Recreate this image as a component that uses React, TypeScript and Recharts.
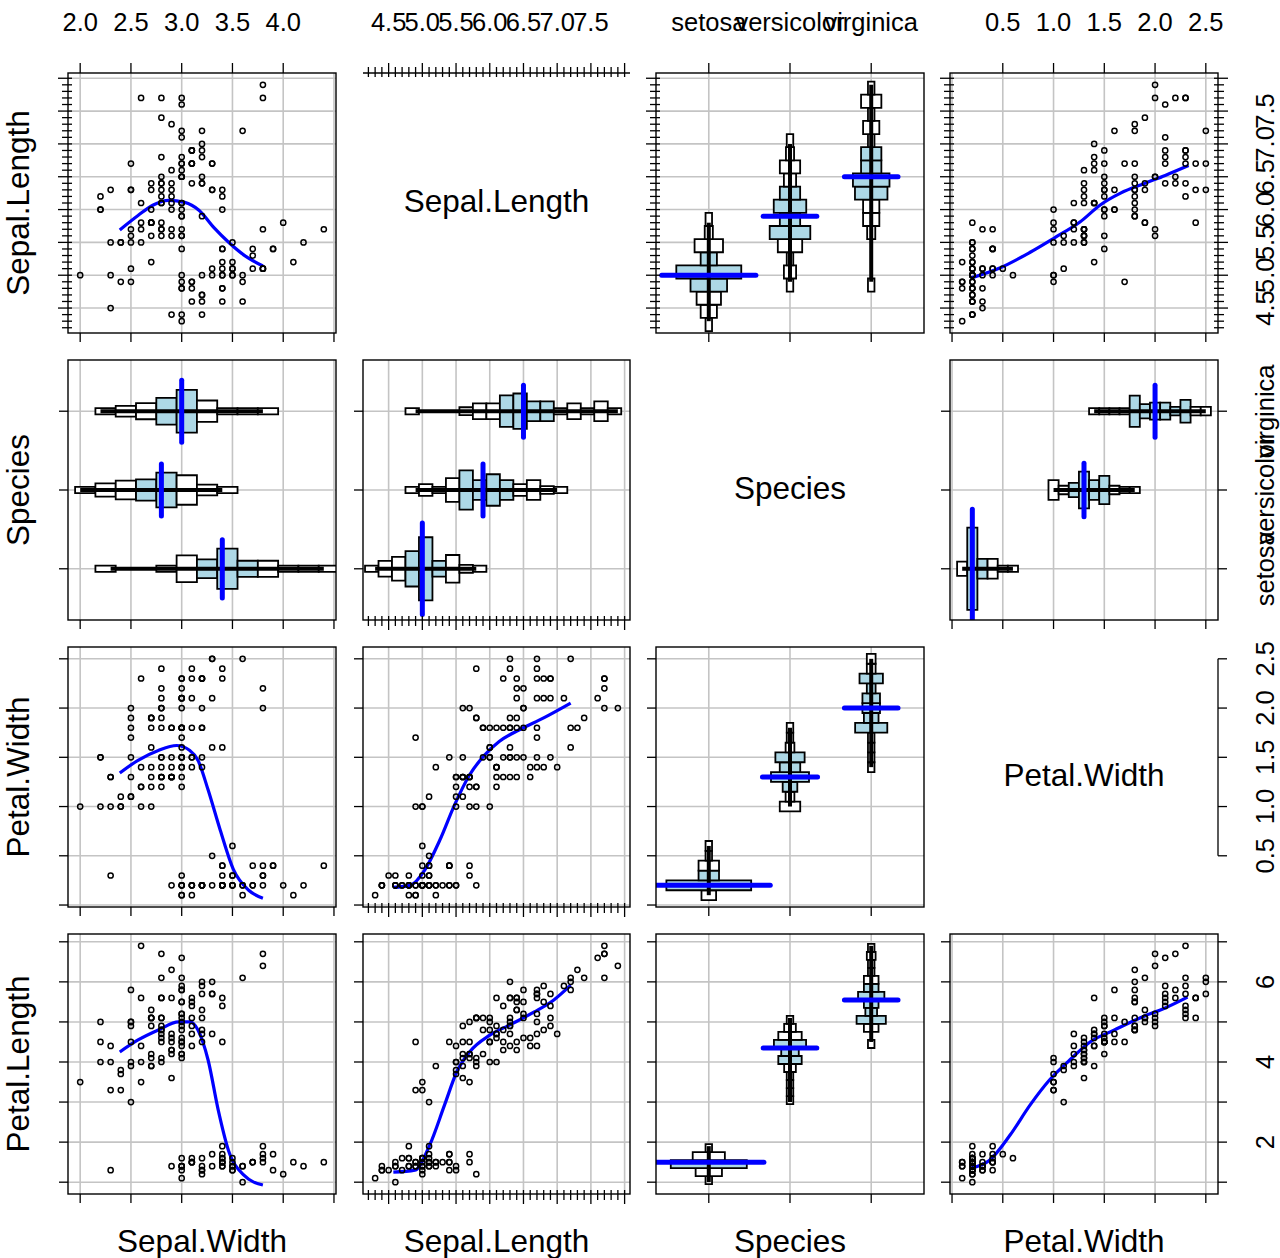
import React from 'react';
import { ComposedChart, XAxis, YAxis, Scatter, Line, CartesianGrid, ReferenceArea, ReferenceLine } from 'recharts';

// ---------------- iris data ----------------
const SETOSA_SL = [5.1,4.9,4.7,4.6,5.0,5.4,4.6,5.0,4.4,4.9,5.4,4.8,4.8,4.3,5.8,5.7,5.4,5.1,5.7,5.1,5.4,5.1,4.6,5.1,4.8,5.0,5.0,5.2,5.2,4.7,4.8,5.4,5.2,5.5,4.9,5.0,5.5,4.9,4.4,5.1,5.0,4.5,4.4,5.0,5.1,4.8,5.1,4.6,5.3,5.0];
const SETOSA_SW = [3.5,3.0,3.2,3.1,3.6,3.9,3.4,3.4,2.9,3.1,3.7,3.4,3.0,3.0,4.0,4.4,3.9,3.5,3.8,3.8,3.4,3.7,3.6,3.3,3.4,3.0,3.4,3.5,3.4,3.2,3.1,3.4,4.1,4.2,3.1,3.2,3.5,3.6,3.0,3.4,3.5,2.3,3.2,3.5,3.8,3.0,3.8,3.2,3.7,3.3];
const SETOSA_PL = [1.4,1.4,1.3,1.5,1.4,1.7,1.4,1.5,1.4,1.5,1.5,1.6,1.4,1.1,1.2,1.5,1.3,1.4,1.7,1.5,1.7,1.5,1.0,1.7,1.9,1.6,1.6,1.5,1.4,1.6,1.6,1.5,1.5,1.4,1.5,1.2,1.3,1.4,1.3,1.5,1.3,1.3,1.3,1.6,1.9,1.4,1.6,1.4,1.5,1.4];
const SETOSA_PW = [0.2,0.2,0.2,0.2,0.2,0.4,0.3,0.2,0.2,0.1,0.2,0.2,0.1,0.1,0.2,0.4,0.4,0.3,0.3,0.3,0.2,0.4,0.2,0.5,0.2,0.2,0.4,0.2,0.2,0.2,0.2,0.4,0.1,0.2,0.2,0.2,0.2,0.1,0.2,0.2,0.3,0.3,0.2,0.6,0.4,0.3,0.2,0.2,0.2,0.2];

const VERSICOLOR_SL = [7.0,6.4,6.9,5.5,6.5,5.7,6.3,4.9,6.6,5.2,5.0,5.9,6.0,6.1,5.6,6.7,5.6,5.8,6.2,5.6,5.9,6.1,6.3,6.1,6.4,6.6,6.8,6.7,6.0,5.7,5.5,5.5,5.8,6.0,5.4,6.0,6.7,6.3,5.6,5.5,5.5,6.1,5.8,5.0,5.6,5.7,5.7,6.2,5.1,5.7];
const VERSICOLOR_SW = [3.2,3.2,3.1,2.3,2.8,2.8,3.3,2.4,2.9,2.7,2.0,3.0,2.2,2.9,2.9,3.1,3.0,2.7,2.2,2.5,3.2,2.8,2.5,2.8,2.9,3.0,2.8,3.0,2.9,2.6,2.4,2.4,2.7,2.7,3.0,3.4,3.1,2.3,3.0,2.5,2.6,3.0,2.6,2.3,2.7,3.0,2.9,2.9,2.5,2.8];
const VERSICOLOR_PL = [4.7,4.5,4.9,4.0,4.6,4.5,4.7,3.3,4.6,3.9,3.5,4.2,4.0,4.7,3.6,4.4,4.5,4.1,4.5,3.9,4.8,4.0,4.9,4.7,4.3,4.4,4.8,5.0,4.5,3.5,3.8,3.7,3.9,5.1,4.5,4.5,4.7,4.4,4.1,4.0,4.4,4.6,4.0,3.3,4.2,4.2,4.2,4.3,3.0,4.1];
const VERSICOLOR_PW = [1.4,1.5,1.5,1.3,1.5,1.3,1.6,1.0,1.3,1.4,1.0,1.5,1.0,1.4,1.3,1.4,1.5,1.0,1.5,1.1,1.8,1.3,1.5,1.2,1.3,1.4,1.4,1.7,1.5,1.0,1.1,1.0,1.2,1.6,1.5,1.6,1.5,1.3,1.3,1.3,1.2,1.4,1.2,1.0,1.3,1.2,1.3,1.3,1.1,1.3];

const VIRGINICA_SL = [6.3,5.8,7.1,6.3,6.5,7.6,4.9,7.3,6.7,7.2,6.5,6.4,6.8,5.7,5.8,6.4,6.5,7.7,7.7,6.0,6.9,5.6,7.7,6.3,6.7,7.2,6.2,6.1,6.4,7.2,7.4,7.9,6.4,6.3,6.1,7.7,6.3,6.4,6.0,6.9,6.7,6.9,5.8,6.8,6.7,6.7,6.3,6.5,6.2,5.9];
const VIRGINICA_SW = [3.3,2.7,3.0,2.9,3.0,3.0,2.5,2.9,2.5,3.6,3.2,2.7,3.0,2.5,2.8,3.2,3.0,3.8,2.6,2.2,3.2,2.8,2.8,2.7,3.3,3.2,2.8,3.0,2.8,3.0,2.8,3.8,2.8,2.8,2.6,3.0,3.4,3.1,3.0,3.1,3.1,3.1,2.7,3.2,3.3,3.0,2.5,3.0,3.4,3.0];
const VIRGINICA_PL = [6.0,5.1,5.9,5.6,5.8,6.6,4.5,6.3,5.8,6.1,5.1,5.3,5.5,5.0,5.1,5.3,5.5,6.7,6.9,5.0,5.7,4.9,6.7,4.9,5.7,6.0,4.8,4.9,5.6,5.8,6.1,6.4,5.6,5.1,5.6,6.1,5.6,5.5,4.8,5.4,5.6,5.1,5.1,5.9,5.7,5.2,5.0,5.2,5.4,5.1];
const VIRGINICA_PW = [2.5,1.9,2.1,1.8,2.2,2.1,1.7,1.8,1.8,2.5,2.0,1.9,2.1,2.0,2.4,2.3,1.8,2.2,2.3,1.5,2.3,2.0,2.0,1.8,2.1,1.8,1.8,1.8,2.1,1.6,1.9,2.0,2.2,1.5,1.4,2.3,2.4,1.8,1.8,2.1,2.4,2.3,1.9,2.3,2.5,2.3,1.9,2.0,2.3,1.8];

const SPECIES_NAMES = ['setosa', 'versicolor', 'virginica'];
const SPECIES_CODES = [1, 2, 3];

// ---------------- smoother curves ----------------
type Pt = { x: number; y: number };
const LOESS_SW_SL: Pt[] = [{x:2.39,y:5.69},{x:2.57,y:5.91},{x:2.72,y:6.07},{x:2.87,y:6.14},{x:3.03,y:6.11},{x:3.17,y:5.99},{x:3.32,y:5.72},{x:3.47,y:5.49},{x:3.61,y:5.31},{x:3.80,y:5.14}];
const LOESS_PW_SL: Pt[] = [{x:0.19,y:4.96},{x:0.47,y:5.11},{x:0.77,y:5.35},{x:1.01,y:5.57},{x:1.26,y:5.81},{x:1.46,y:6.07},{x:1.66,y:6.25},{x:1.90,y:6.40},{x:2.10,y:6.52},{x:2.33,y:6.67}];
const LOESS_SW_PW: Pt[] = [{x:2.39,y:1.34},{x:2.57,y:1.47},{x:2.77,y:1.57},{x:2.95,y:1.62},{x:3.08,y:1.57},{x:3.16,y:1.47},{x:3.26,y:1.17},{x:3.38,y:0.76},{x:3.51,y:0.36},{x:3.66,y:0.15},{x:3.80,y:0.07}];
const LOESS_SL_PW: Pt[] = [{x:4.57,y:0.18},{x:4.82,y:0.20},{x:5.04,y:0.36},{x:5.26,y:0.66},{x:5.48,y:1.02},{x:5.70,y:1.32},{x:5.92,y:1.52},{x:6.14,y:1.66},{x:6.44,y:1.78},{x:6.80,y:1.90},{x:7.20,y:2.05}];
const LOESS_SW_PL: Pt[] = [{x:2.39,y:4.25},{x:2.57,y:4.55},{x:2.77,y:4.80},{x:2.97,y:5.00},{x:3.08,y:5.00},{x:3.16,y:4.80},{x:3.26,y:4.05},{x:3.36,y:2.80},{x:3.46,y:1.80},{x:3.61,y:1.18},{x:3.80,y:0.93}];
const LOESS_SL_PL: Pt[] = [{x:4.57,y:1.25},{x:4.89,y:1.30},{x:5.11,y:1.93},{x:5.33,y:2.93},{x:5.51,y:3.75},{x:5.70,y:4.25},{x:6.00,y:4.67},{x:6.29,y:4.92},{x:6.66,y:5.25},{x:6.95,y:5.55},{x:7.20,y:5.92}];
const LOESS_PW_PL: Pt[] = [{x:0.19,y:1.35},{x:0.37,y:1.55},{x:0.57,y:2.17},{x:0.77,y:2.93},{x:0.96,y:3.55},{x:1.16,y:4.05},{x:1.36,y:4.50},{x:1.60,y:4.80},{x:1.85,y:5.10},{x:2.10,y:5.35},{x:2.32,y:5.62}];

// ---------------- ticks ----------------
const SW_TICKS = [2.0, 2.5, 3.0, 3.5, 4.0, 4.5];
const SW_LABELS = [2.0, 2.5, 3.0, 3.5, 4.0];
const SL_TICKS = [4.2,4.3,4.4,4.5,4.6,4.7,4.8,4.9,5.0,5.1,5.2,5.3,5.4,5.5,5.6,5.7,5.8,5.9,6.0,6.1,6.2,6.3,6.4,6.5,6.6,6.7,6.8,6.9,7.0,7.1,7.2,7.3,7.4,7.5,7.6,7.7,7.8,7.9,8.0];
const SL_LABELS = [4.5, 5.0, 5.5, 6.0, 6.5, 7.0, 7.5];
const SL_GRID = [4.5, 5.0, 5.5, 6.0, 6.5, 7.0, 7.5, 8.0];
const PW_TICKS = [0.0, 0.5, 1.0, 1.5, 2.0, 2.5];
const PW_LABELS = [0.5, 1.0, 1.5, 2.0, 2.5];
const PL_TICKS = [1, 2, 3, 4, 5, 6, 7];
const PL_LABELS = [2, 4, 6];
const SP_TICKS = [1, 2, 3];

// ---------------- layout ----------------
const PAD = 70;
const COL_X = [68, 363, 656, 950];
const COL_W = [268, 267, 268, 268];
const ROW_Y = [73, 360, 647, 934];
const ROW_H = 260;
const FONT = '"Liberation Sans", Arial, Helvetica, sans-serif';
const TICK_FS = 25.5;
const NAME_FS = 31.5;
const GRID_COLOR = '#c4c4c4';

type VarKey = 'SW' | 'SL' | 'SP' | 'PW' | 'PL';
const ROW_VARS: VarKey[] = ['SL', 'SP', 'PW', 'PL'];
const COL_VARS: VarKey[] = ['SW', 'SL', 'SP', 'PW'];
const VAR_NAME: Record<VarKey, string> = { SW: 'Sepal.Width', SL: 'Sepal.Length', SP: 'Species', PW: 'Petal.Width', PL: 'Petal.Length' };

function domainOf(v: VarKey): [number, number] {
  switch (v) {
    case 'SW': return [1.88, 4.52];
    case 'SL': return [4.12, 8.08];
    case 'SP': return [0.35, 3.65];
    case 'PW': return [-0.02, 2.62];
    default: return [0.705, 7.195];
  }
}
function gridOf(v: VarKey): number[] {
  switch (v) {
    case 'SW': return SW_TICKS;
    case 'SL': return SL_GRID;
    case 'SP': return SP_TICKS;
    case 'PW': return PW_TICKS;
    default: return PL_TICKS;
  }
}
function ticksOf(v: VarKey): number[] {
  switch (v) {
    case 'SW': return SW_TICKS;
    case 'SL': return SL_TICKS;
    case 'SP': return SP_TICKS;
    case 'PW': return PW_TICKS;
    default: return PL_TICKS;
  }
}
function topTicksOf(v: VarKey): number[] {
  switch (v) {
    case 'SW': return SW_LABELS;
    case 'SL': return SL_TICKS;
    case 'SP': return SP_TICKS;
    case 'PW': return PW_LABELS;
    default: return PL_TICKS;
  }
}
function labelsOf(v: VarKey): number[] {
  switch (v) {
    case 'SW': return SW_LABELS;
    case 'SL': return SL_LABELS;
    case 'SP': return SP_TICKS;
    case 'PW': return PW_LABELS;
    default: return PL_LABELS;
  }
}
function binWidthOf(v: VarKey): number {
  return v === 'PW' ? 0.1 : 0.2;
}
// half-width (species units) per observation in a bin
function boxScaleOf(v: VarKey): number {
  switch (v) {
    case 'SL': return 0.025;
    case 'SW': return 0.017;
    case 'PL': return 0.018;
    default: return 0.018;
  }
}
function fmt(v: VarKey, val: number): string {
  if (v === 'SP') return SPECIES_NAMES[Math.round(val) - 1];
  if (v === 'PL') return String(Math.round(val));
  return val.toFixed(1);
}
function speciesValues(v: VarKey, si: number): number[] {
  if (v === 'SP') return new Array(50).fill(SPECIES_CODES[si]);
  const table: Record<string, number[][]> = {
    SL: [SETOSA_SL, VERSICOLOR_SL, VIRGINICA_SL],
    SW: [SETOSA_SW, VERSICOLOR_SW, VIRGINICA_SW],
    PL: [SETOSA_PL, VERSICOLOR_PL, VIRGINICA_PL],
    PW: [SETOSA_PW, VERSICOLOR_PW, VIRGINICA_PW],
  };
  return table[v][si];
}
function curveFor(xv: VarKey, yv: VarKey): Pt[] | null {
  const k = xv + '|' + yv;
  const m: Record<string, Pt[]> = {
    'SW|SL': LOESS_SW_SL, 'PW|SL': LOESS_PW_SL, 'SW|PW': LOESS_SW_PW, 'SL|PW': LOESS_SL_PW,
    'SW|PL': LOESS_SW_PL, 'SL|PL': LOESS_SL_PL, 'PW|PL': LOESS_PW_PL,
  };
  return m[k] || null;
}

const has = (arr: number[], v: number) => arr.some((a) => Math.abs(a - v) < 1e-6);
const isMajor = (v: number) => Math.abs(v * 2 - Math.round(v * 2)) < 1e-6;

// ---------------- statistics for the histogram boxes ----------------
function stats(vals: number[], bw: number) {
  const s = [...vals].sort((a, b) => a - b);
  const n = s.length;
  const q = (p: number) => {
    const h = (n - 1) * p;
    const lo = Math.floor(h);
    const hi = Math.min(lo + 1, n - 1);
    return s[lo] + (h - lo) * (s[hi] - s[lo]);
  };
  const counts = new Map<number, number>();
  s.forEach((v) => {
    const k = Math.floor(v / bw + 1e-6);
    counts.set(k, (counts.get(k) || 0) + 1);
  });
  const bins = [...counts.entries()].map(([k, c]) => ({ k, lo: k * bw - 0.05, hi: (k + 1) * bw - 0.05, c }));
  const med = q(0.5);
  const medBin = Math.floor(med / bw + 1e-6);
  const medCount = counts.get(medBin) || 1;
  return { min: s[0], max: s[n - 1], q1: q(0.25), q3: q(0.75), med, bins, medCount };
}

function boxElements(valVar: VarKey, vertical: boolean) {
  const els: React.ReactNode[] = [];
  const bw = binWidthOf(valVar);
  const k = boxScaleOf(valVar);
  SPECIES_CODES.forEach((s, si) => {
    const st = stats(speciesValues(valVar, si), bw);
    st.bins.forEach(({ lo, hi, c }, bi) => {
      const h = Math.max(0.04, k * c);
      const mid = (lo + hi) / 2;
      const inIqr = mid >= st.q1 - 0.05 && mid <= st.q3 + 0.05;
      const a = vertical
        ? { x1: s - h, x2: s + h, y1: lo, y2: hi }
        : { x1: lo, x2: hi, y1: s - h, y2: s + h };
      els.push(
        <ReferenceArea key={`a${si}-${bi}`} {...a} fill={inIqr ? '#add8e6' : '#ffffff'} fillOpacity={1}
          stroke="#000" strokeWidth={1.8} ifOverflow="hidden" />
      );
    });
    const rangeSeg = vertical
      ? [{ x: s, y: st.min }, { x: s, y: st.max }]
      : [{ x: st.min, y: s }, { x: st.max, y: s }];
    els.push(<ReferenceLine key={`r${si}`} segment={rangeSeg} stroke="#000" strokeWidth={4} ifOverflow="visible" />);
    const L = Math.max(0.33, 1.45 * k * st.medCount);
    const medSeg = vertical
      ? [{ x: s - L, y: st.med }, { x: s + L, y: st.med }]
      : [{ x: st.med, y: s - L }, { x: st.med, y: s + L }];
    els.push(<ReferenceLine key={`m${si}`} segment={medSeg} stroke="#0000ff" strokeWidth={5} strokeLinecap="round" ifOverflow="hidden" />);
  });
  return els;
}

// ---------------- panel config ----------------
type Side = 'top' | 'bottom' | 'left' | 'right';
type Edge = { side: Side; style: 'out' | 'dense' | 'bracket'; values: number[]; labels?: number[] };
type Kind = 'scatter' | 'boxV' | 'boxH' | 'diag';
interface PanelCfg { row: number; col: number; xv: VarKey; yv: VarKey; kind: Kind; xEdges: Edge[]; yEdges: Edge[] }

const styleOf = (v: VarKey) => (v === 'SL' ? 'dense' : 'out') as 'dense' | 'out';

function buildPanels(): PanelCfg[] {
  const out: PanelCfg[] = [];
  ROW_VARS.forEach((yv, r) => {
    COL_VARS.forEach((xv, c) => {
      const kind: Kind = xv === yv ? 'diag' : xv === 'SP' ? 'boxV' : yv === 'SP' ? 'boxH' : 'scatter';
      const xEdges: Edge[] = [];
      const yEdges: Edge[] = [];
      if (kind !== 'diag') {
        xEdges.push({ side: 'bottom', style: styleOf(xv), values: ticksOf(xv) });
        yEdges.push({ side: 'left', style: styleOf(yv), values: ticksOf(yv) });
        if (r === 0) xEdges.push({ side: 'top', style: styleOf(xv), values: topTicksOf(xv), labels: labelsOf(xv) });
        if (c === 3) yEdges.push({ side: 'right', style: styleOf(yv), values: ticksOf(yv), labels: labelsOf(yv) });
      } else if (xv === 'SL') {
        xEdges.push({ side: 'top', style: 'dense', values: SL_TICKS, labels: SL_LABELS });
      } else if (xv === 'PW') {
        yEdges.push({ side: 'right', style: 'bracket', values: PW_LABELS, labels: PW_LABELS });
      }
      out.push({ row: r, col: c, xv, yv, kind, xEdges, yEdges });
    });
  });
  return out;
}
const PANELS = buildPanels();

// ---------------- tick renderers ----------------
const TS = { stroke: '#000', strokeWidth: 1.3 };

function makeXTick(edges: Edge[], ph: number, v: VarKey) {
  return (props: any) => {
    const x = props.x;
    const val = props.payload.value;
    const parts: React.ReactNode[] = [];
    edges.forEach((e, i) => {
      if (!has(e.values, val)) return;
      const major = e.style !== 'dense' || isMajor(val);
      if (e.side === 'top') {
        const y0 = PAD;
        if (e.style === 'dense') parts.push(<line key={`t${i}`} x1={x} x2={x} y1={y0 + 4} y2={y0 - (major ? 10 : 6)} {...TS} />);
        else parts.push(<line key={`t${i}`} x1={x} x2={x} y1={y0} y2={y0 - 10} {...TS} />);
        if (e.labels && has(e.labels, val)) {
          parts.push(
            <text key={`l${i}`} x={x} y={PAD - 51} dy="0.35em" textAnchor="middle" fontSize={TICK_FS} fill="#000" style={{ fontFamily: FONT }}>
              {fmt(v, val)}
            </text>
          );
        }
      } else {
        const y0 = PAD + ph;
        if (e.style === 'dense') parts.push(<line key={`b${i}`} x1={x} x2={x} y1={y0 - 4} y2={y0 + (major ? 10 : 6)} {...TS} />);
        else parts.push(<line key={`b${i}`} x1={x} x2={x} y1={y0} y2={y0 + 9} {...TS} />);
      }
    });
    return <g>{parts}</g>;
  };
}

function makeYTick(edges: Edge[], pw: number, v: VarKey) {
  return (props: any) => {
    const y = props.y;
    const val = props.payload.value;
    const parts: React.ReactNode[] = [];
    edges.forEach((e, i) => {
      if (!has(e.values, val)) return;
      const major = e.style !== 'dense' || isMajor(val);
      if (e.side === 'left') {
        const x0 = PAD;
        if (e.style === 'dense') parts.push(<line key={`L${i}`} x1={x0 + 4} x2={x0 - (major ? 10 : 6)} y1={y} y2={y} {...TS} />);
        else parts.push(<line key={`L${i}`} x1={x0} x2={x0 - 9} y1={y} y2={y} {...TS} />);
      } else {
        const x0 = PAD + pw;
        if (e.style === 'dense') parts.push(<line key={`R${i}`} x1={x0 - 4} x2={x0 + (major ? 10 : 6)} y1={y} y2={y} {...TS} />);
        else parts.push(<line key={`R${i}`} x1={x0} x2={x0 + 9} y1={y} y2={y} {...TS} />);
        if (e.labels && has(e.labels, val)) {
          const cx = x0 + 47;
          parts.push(
            <text key={`rl${i}`} x={0} y={0} dy="0.35em" textAnchor="middle" fontSize={TICK_FS} fill="#000"
              transform={`translate(${cx},${y}) rotate(-90)`} style={{ fontFamily: FONT }}>
              {fmt(v, val)}
            </text>
          );
        }
      }
    });
    return <g>{parts}</g>;
  };
}

function unionTicks(edges: Edge[]): number[] {
  const all: number[] = [];
  edges.forEach((e) => e.values.forEach((v) => { if (!has(all, v)) all.push(v); }));
  return all.sort((a, b) => a - b);
}

const circleShape = (p: any) => (
  <circle cx={p.cx} cy={p.cy} r={2.6} fill="none" stroke="#000" strokeWidth={1.5} />
);

function Panel({ cfg }: { cfg: PanelCfg }) {
  const pw = COL_W[cfg.col];
  const ph = ROW_H;
  const xd = domainOf(cfg.xv);
  const yd = domainOf(cfg.yv);
  const xTicks = unionTicks(cfg.xEdges);
  const yTicks = unionTicks(cfg.yEdges);
  const pts: Pt[] = [];
  if (cfg.kind === 'scatter') {
    for (let si = 0; si < 3; si++) {
      const xs = speciesValues(cfg.xv, si);
      const ys = speciesValues(cfg.yv, si);
      xs.forEach((xv, i) => pts.push({ x: xv, y: ys[i] }));
    }
  }
  const curve = cfg.kind === 'scatter' ? curveFor(cfg.xv, cfg.yv) : null;
  return (
    <div style={{ position: 'absolute', left: COL_X[cfg.col] - PAD, top: ROW_Y[cfg.row] - PAD }}>
      <ComposedChart width={pw + 2 * PAD} height={ph + 2 * PAD} margin={{ top: PAD, right: PAD, bottom: PAD - 1, left: PAD - 1 }}>
        <XAxis type="number" dataKey="x" domain={xd} allowDataOverflow
          ticks={xTicks.length ? xTicks : gridOf(cfg.xv)} interval={0}
          tick={xTicks.length ? makeXTick(cfg.xEdges, ph, cfg.xv) : false}
          tickLine={false} axisLine={false} height={1} />
        <YAxis type="number" dataKey="y" domain={yd} allowDataOverflow
          ticks={yTicks.length ? yTicks : gridOf(cfg.yv)} interval={0}
          tick={yTicks.length ? makeYTick(cfg.yEdges, pw, cfg.yv) : false}
          tickLine={false} axisLine={false} width={1} />
        {cfg.kind !== 'diag' && (
          <CartesianGrid verticalValues={gridOf(cfg.xv)} horizontalValues={gridOf(cfg.yv)} stroke={GRID_COLOR} strokeWidth={1.6} />
        )}
        {cfg.kind === 'boxV' && boxElements(cfg.yv, true)}
        {cfg.kind === 'boxH' && boxElements(cfg.xv, false)}
        {cfg.kind === 'scatter' && (
          <Scatter data={pts} dataKey="y" shape={circleShape} isAnimationActive={false} />
        )}
        {curve && (
          <Line data={curve} dataKey="y" type="monotone" stroke="#0000ff" strokeWidth={3.2} dot={false} activeDot={false} isAnimationActive={false} />
        )}
        {cfg.kind === 'diag' && cfg.xv === 'SL' && (
          <ReferenceLine segment={[{ x: xd[0], y: yd[1] }, { x: xd[1], y: yd[1] }]} stroke="#000" strokeWidth={1.3} ifOverflow="visible" />
        )}
        {cfg.kind === 'diag' && cfg.xv === 'PW' && (
          <ReferenceLine segment={[{ x: xd[1], y: 0.5 }, { x: xd[1], y: 2.5 }]} stroke="#000" strokeWidth={1.3} ifOverflow="visible" />
        )}
      </ComposedChart>
    </div>
  );
}

export default function App() {
  return (
    <div style={{ position: 'absolute', left: 0, top: 0, width: 1280, height: 1258, overflow: 'hidden', background: '#fff' }}>
      {PANELS.map((p) => <Panel key={`${p.row}-${p.col}`} cfg={p} />)}
      <svg width={1280} height={1258} style={{ position: 'absolute', left: 0, top: 0, pointerEvents: 'none' }}>
        {PANELS.filter((p) => p.kind !== 'diag').map((p) => (
          <rect key={`b${p.row}-${p.col}`} x={COL_X[p.col]} y={ROW_Y[p.row]} width={COL_W[p.col]} height={ROW_H}
            fill="none" stroke="#000" strokeWidth={1.4} />
        ))}
        {PANELS.filter((p) => p.kind === 'diag').map((p) => (
          <text key={`d${p.row}`} x={COL_X[p.col] + COL_W[p.col] / 2} y={ROW_Y[p.row] + ROW_H / 2 - 2} dy="0.35em"
            textAnchor="middle" fontSize={NAME_FS} fill="#000" style={{ fontFamily: FONT }}>
            {VAR_NAME[p.xv]}
          </text>
        ))}
        {ROW_VARS.map((v, r) => (
          <text key={`rn${r}`} x={0} y={0} dy="0.35em" textAnchor="middle" fontSize={NAME_FS} fill="#000"
            transform={`translate(18,${ROW_Y[r] + ROW_H / 2}) rotate(-90)`} style={{ fontFamily: FONT }}>
            {VAR_NAME[v]}
          </text>
        ))}
        {COL_VARS.map((v, c) => (
          <text key={`cn${c}`} x={COL_X[c] + COL_W[c] / 2} y={1241} dy="0.35em" textAnchor="middle" fontSize={NAME_FS}
            fill="#000" style={{ fontFamily: FONT }}>
            {VAR_NAME[v]}
          </text>
        ))}
      </svg>
    </div>
  );
}
